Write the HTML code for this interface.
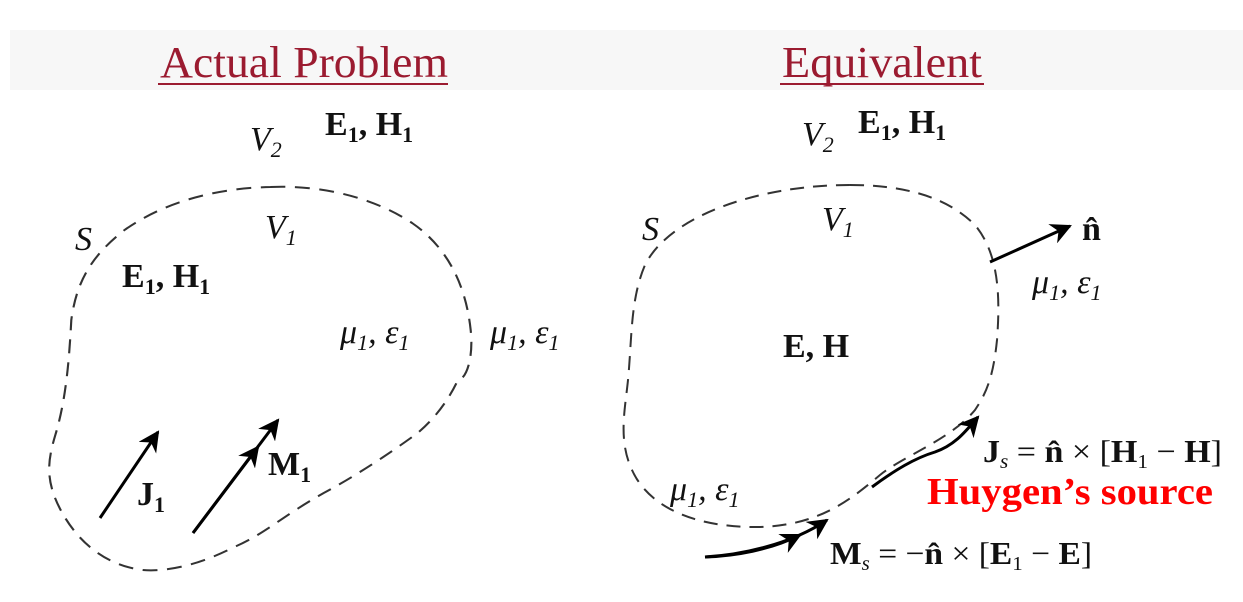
<!DOCTYPE html>
<html><head><meta charset="utf-8"><style>
html,body{margin:0;padding:0;background:#fff;}
svg{display:block;font-family:"Liberation Serif",serif;}
</style></head><body>
<svg width="1243" height="602" viewBox="0 0 1243 602">
<defs>
<marker id="ah" viewBox="0 0 10 10" refX="9" refY="5" markerWidth="7" markerHeight="7" orient="auto"><path d="M0,0 L10,5 L0,10 L3,5 Z" fill="#000"/></marker>
</defs>
<rect x="10" y="30" width="1233" height="60" fill="#f7f7f7"/>
<text x="160" y="77" font-size="44" fill="#9b1b30" textLength="288" lengthAdjust="spacingAndGlyphs">Actual Problem</text>
<line x1="158" y1="84" x2="448" y2="84" stroke="#9b1b30" stroke-width="2"/>
<text x="782" y="77" font-size="44" fill="#9b1b30" textLength="200" lengthAdjust="spacingAndGlyphs">Equivalent</text>
<line x1="780" y1="84" x2="984" y2="84" stroke="#9b1b30" stroke-width="2"/>

<g fill="none" stroke="#333" stroke-width="2" stroke-dasharray="14,9">
<path transform="translate(50,0) scale(1.065,1) translate(-50,0)" d="M257,187 C300,185 350,195 390,223 C420,245 440,280 445,330 C448,360 440,380 433,380 C420,410 400,430 390,437 C360,460 330,480 307,493 C270,515 250,535 223,547 C190,565 160,572 137,570 C100,565 75,540 60,510 C45,480 48,460 55,435 C65,400 68,360 70,320 C75,280 90,255 120,230 C160,200 210,188 257,187 Z"/>
<path d="M850,185 C900,185 945,195 975,225 C1000,255 1000,300 997,340 C993,380 985,395 975,410 C950,440 905,455 880,475 C850,500 820,525 760,527 C700,528 650,510 632,470 C618,440 625,410 628,380 C632,340 630,300 645,265 C670,215 760,185 850,185 Z"/>
</g>

<g stroke="#000" stroke-width="3" fill="none">
<line x1="100" y1="518" x2="158" y2="432" marker-end="url(#ah)"/>
<line x1="193" y1="533" x2="278" y2="420" marker-end="url(#ah)"/>
<path d="M193,533 L258,447" marker-end="url(#ah)"/>
<line x1="990" y1="262" x2="1070" y2="226" marker-end="url(#ah)"/>
<path d="M872,487 C895,470 915,458 935,452 C955,445 965,432 978,417" marker-end="url(#ah)"/>
<path d="M705,557 C740,555 790,545 827,520" marker-end="url(#ah)"/>
<path d="M705,557 C735,556 770,550 800,535" marker-end="url(#ah)"/>
</g>

<g font-size="34" fill="#111">
<text x="250" y="150" font-style="italic">V<tspan font-size="22" dy="7">2</tspan></text>
<text x="325" y="135" font-weight="bold">E<tspan font-size="22" dy="7">1</tspan><tspan dy="-7">, H</tspan><tspan font-size="22" dy="7">1</tspan></text>
<text x="75" y="250" font-style="italic">S</text>
<text x="265" y="238" font-style="italic">V<tspan font-size="22" dy="7">1</tspan></text>
<text x="122" y="287" font-weight="bold">E<tspan font-size="22" dy="7">1</tspan><tspan dy="-7">, H</tspan><tspan font-size="22" dy="7">1</tspan></text>
<text x="340" y="343" font-style="italic">μ<tspan font-size="22" dy="7">1</tspan><tspan dy="-7">, ε</tspan><tspan font-size="22" dy="7">1</tspan></text>
<text x="490" y="343" font-style="italic">μ<tspan font-size="22" dy="7">1</tspan><tspan dy="-7">, ε</tspan><tspan font-size="22" dy="7">1</tspan></text>
<text x="137" y="505" font-weight="bold">J<tspan font-size="22" dy="7">1</tspan></text>
<text x="268" y="475" font-weight="bold">M<tspan font-size="22" dy="7">1</tspan></text>

<text x="802" y="145" font-style="italic">V<tspan font-size="22" dy="7">2</tspan></text>
<text x="858" y="133" font-weight="bold">E<tspan font-size="22" dy="7">1</tspan><tspan dy="-7">, H</tspan><tspan font-size="22" dy="7">1</tspan></text>
<text x="642" y="240" font-style="italic">S</text>
<text x="822" y="230" font-style="italic">V<tspan font-size="22" dy="7">1</tspan></text>
<text x="1082" y="240" font-weight="bold">n̂</text>
<text x="1032" y="293" font-style="italic">μ<tspan font-size="22" dy="7">1</tspan><tspan dy="-7">, ε</tspan><tspan font-size="22" dy="7">1</tspan></text>
<text x="783" y="357" font-weight="bold">E, H</text>
<text x="670" y="500" font-style="italic">μ<tspan font-size="22" dy="7">1</tspan><tspan dy="-7">, ε</tspan><tspan font-size="22" dy="7">1</tspan></text>
</g>
<g font-size="32" fill="#111">
<text x="983" y="462" textLength="239" lengthAdjust="spacingAndGlyphs"><tspan font-weight="bold">J</tspan><tspan font-size="20" dy="6" font-style="italic">s</tspan><tspan dy="-6"> = </tspan><tspan font-weight="bold">n̂</tspan> × [<tspan font-weight="bold">H</tspan><tspan font-size="20" dy="6">1</tspan><tspan dy="-6"> − </tspan><tspan font-weight="bold">H</tspan>]</text>
<text x="830" y="564" textLength="262" lengthAdjust="spacingAndGlyphs"><tspan font-weight="bold">M</tspan><tspan font-size="20" dy="6" font-style="italic">s</tspan><tspan dy="-6"> = −</tspan><tspan font-weight="bold">n̂</tspan> × [<tspan font-weight="bold">E</tspan><tspan font-size="20" dy="6">1</tspan><tspan dy="-6"> − </tspan><tspan font-weight="bold">E</tspan>]</text>
</g>
<text x="927" y="504" font-size="38" font-weight="bold" fill="#ff0000" textLength="286" lengthAdjust="spacingAndGlyphs">Huygen’s source</text>
</svg>
</body></html>
